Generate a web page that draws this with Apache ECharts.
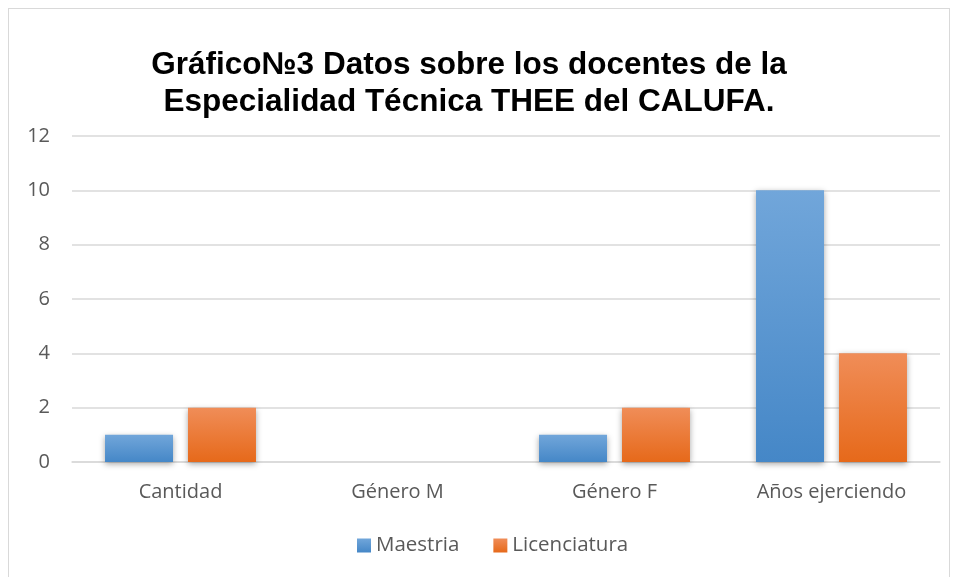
<!DOCTYPE html>
<html>
<head>
<meta charset="utf-8">
<script src="https://cdn.jsdelivr.net/npm/echarts@6/dist/echarts.min.js"></script>
<style>
  html, body { margin: 0; padding: 0; background: #fff; }
  #frame { position: absolute; left: 8px; top: 8px; width: 942px; height: 580px; border: 1px solid #d9d9d9; box-sizing: border-box; }
  #chart { position: absolute; left: 0; top: 0; width: 958px; height: 577px; }
</style>
</head>
<body>
<div id="frame"></div>
<div id="chart"></div>
<script>
const categories = ['Cantidad', 'Género M', 'Género F', 'Años ejerciendo']
const maestria = [1, 0, 1, 10]
const licenciatura = [2, 0, 2, 4]
const yTicks = [0, 2, 4, 6, 8, 10, 12]

const chart = echarts.init(document.getElementById('chart'))

const labelFont = '"Open Sans", "Noto Sans", sans-serif'

function gradient(top, bottom) {
  return new echarts.graphic.LinearGradient(0, 0, 0, 1, [
    { offset: 0, color: top },
    { offset: 1, color: bottom }
  ])
}

const barStyle = (top, bottom) => ({
  color: gradient(top, bottom),
  shadowColor: 'rgba(0, 0, 0, 0.35)',
  shadowBlur: 6,
  shadowOffsetY: 2
})

chart.setOption({
  backgroundColor: 'transparent',
  animation: false,
  title: {
    text: 'Gráfico№3 Datos sobre los docentes de la\nEspecialidad Técnica THEE del CALUFA.',
    left: 464,
    top: 42,
    textAlign: 'center',
    textStyle: {
      fontFamily: '"Liberation Sans", Arial, sans-serif',
      fontWeight: 'bold',
      fontSize: 31.5,
      lineHeight: 37,
      color: '#000'
    }
  },
  legend: {
    bottom: 16,
    left: 352,
    itemWidth: 14,
    itemHeight: 14,
    itemGap: 34,
    icon: 'rect',
    textStyle: { fontFamily: labelFont, fontSize: 20.5, color: '#595959', padding: [0, 0, 0, 0] },
    data: ['Maestria', 'Licenciatura']
  },
  grid: { left: 72, right: 18, top: 136, bottom: 115 },
  xAxis: {
    type: 'category',
    data: categories,
    axisLine: { lineStyle: { color: '#d9d9d9', width: 1.5 } },
    axisTick: { show: false },
    axisLabel: { fontFamily: labelFont, fontSize: 20, color: '#595959', margin: 20 }
  },
  yAxis: {
    type: 'value',
    min: yTicks[0],
    max: yTicks[yTicks.length - 1],
    interval: 2,
    axisLine: { show: false },
    axisTick: { show: false },
    axisLabel: { fontFamily: labelFont, fontSize: 20, color: '#595959', margin: 22 },
    splitLine: { lineStyle: { color: '#d9d9d9', width: 1.5 } }
  },
  series: [
    {
      name: 'Maestria',
      type: 'bar',
      data: maestria,
      barWidth: 68,
      barGap: '22%',
      itemStyle: barStyle('#71a6da', '#4587c7')
    },
    {
      name: 'Licenciatura',
      type: 'bar',
      data: licenciatura,
      barWidth: 68,
      itemStyle: barStyle('#f08d58', '#e6691a')
    }
  ]
})
</script>
</body>
</html>
